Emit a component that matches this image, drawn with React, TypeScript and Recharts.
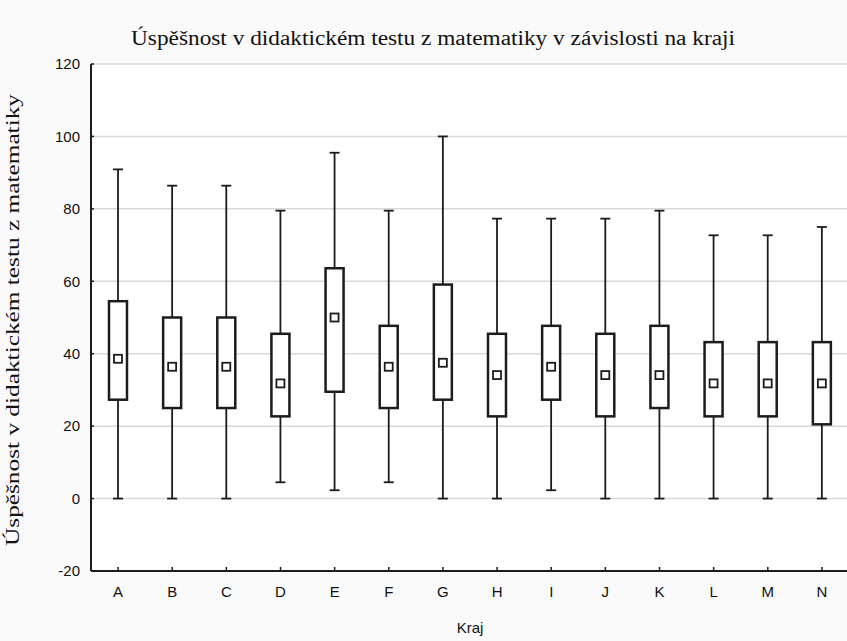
import React from 'react';
import { ComposedChart, Bar, XAxis, YAxis, CartesianGrid } from 'recharts';

const kraje = ['A', 'B', 'C', 'D', 'E', 'F', 'G', 'H', 'I', 'J', 'K', 'L', 'M', 'N'];
const minima = [0, 0, 0, 4.5, 2.3, 4.5, 0, 0, 2.3, 0, 0, 0, 0, 0];
const dolniKvartil = [27.3, 25.0, 25.0, 22.7, 29.5, 25.0, 27.3, 22.7, 27.3, 22.7, 25.0, 22.7, 22.7, 20.5];
const medianSkore = [38.6, 36.4, 36.4, 31.8, 50.0, 36.4, 37.5, 34.1, 36.4, 34.1, 34.1, 31.8, 31.8, 31.8];
const horniKvartil = [54.5, 50.0, 50.0, 45.5, 63.6, 47.7, 59.1, 45.5, 47.7, 45.5, 47.7, 43.2, 43.2, 43.2];
const maxima = [90.9, 86.4, 86.4, 79.5, 95.5, 79.5, 100, 77.3, 77.3, 77.3, 79.5, 72.7, 72.7, 75.0];
const yTicks = [-20, 0, 20, 40, 60, 80, 100, 120];

const nadpis = 'Úspěšnost v didaktickém testu z matematiky v závislosti na kraji';
const popisY = 'Úspěšnost v didaktickém testu z matematiky';
const popisX = 'Kraj';

const data = kraje.map((kraj, i) => ({
  kraj,
  min: minima[i],
  q1: dolniKvartil[i],
  median: medianSkore[i],
  q3: horniKvartil[i],
  max: maxima[i],
}));

const INK = '#1c1c1c';
const SERIF = '"Liberation Serif", "Times New Roman", serif';
const SANS = '"Liberation Sans", Arial, sans-serif';

// bar spans [min, max]; the other statistics are placed on the same pixel scale
const BoxShape = (props: any) => {
  const { x, y, width, height, payload } = props;
  const top = Math.min(y, y + height);
  const span = Math.abs(height);
  const range = payload.max - payload.min;
  const py = (v: number) => top + (span * (payload.max - v)) / range;
  const cx = x + width / 2;
  const box = 9;
  const cap = 5;
  const sq = 4;
  return (
    <g>
      <line x1={cx} x2={cx} y1={py(payload.max)} y2={py(payload.q3)} stroke={INK} strokeWidth={1.8} />
      <line x1={cx} x2={cx} y1={py(payload.q1)} y2={py(payload.min)} stroke={INK} strokeWidth={1.8} />
      <line x1={cx - cap} x2={cx + cap} y1={py(payload.max)} y2={py(payload.max)} stroke={INK} strokeWidth={1.8} />
      <line x1={cx - cap} x2={cx + cap} y1={py(payload.min)} y2={py(payload.min)} stroke={INK} strokeWidth={1.8} />
      <rect
        x={cx - box}
        y={py(payload.q3)}
        width={box * 2}
        height={py(payload.q1) - py(payload.q3)}
        fill="#fff"
        stroke={INK}
        strokeWidth={2.5}
      />
      <rect
        x={cx - sq}
        y={py(payload.median) - sq}
        width={sq * 2}
        height={sq * 2}
        fill="#fff"
        stroke={INK}
        strokeWidth={1.8}
      />
    </g>
  );
};

const App = () => {
  return (
    <div
      style={{
        position: 'fixed',
        left: 0,
        top: 0,
        width: 847,
        height: 641,
        overflow: 'hidden',
        background: '#fafafa',
      }}
    >
      <ComposedChart
        width={862}
        height={641}
        data={data}
        margin={{ top: 64, right: 0, bottom: 0, left: 0 }}
        style={{ position: 'absolute', left: 0, top: 0 }}
      >
        <CartesianGrid vertical={false} stroke="#d9d9d9" strokeWidth={1.5} fill="#ffffff" />
        <XAxis
          dataKey="kraj"
          height={70}
          axisLine={{ stroke: INK, strokeWidth: 2 }}
          tickLine={{ stroke: INK, strokeWidth: 1.5 }}
          tickSize={-4}
          tickMargin={19}
          tick={{ fill: '#111', fontFamily: SANS, fontSize: 15 }}
          label={{ value: popisX, position: 'insideBottom', offset: 8, fill: '#111', fontFamily: SANS, fontSize: 15 }}
        />
        <XAxis
          xAxisId="top"
          dataKey="kraj"
          orientation="top"
          height={0}
          axisLine={{ stroke: INK, strokeWidth: 2 }}
          tickLine={{ stroke: INK, strokeWidth: 1.5 }}
          tickSize={-4}
          tick={false}
        />
        <YAxis
          domain={[-20, 120]}
          ticks={yTicks}
          width={91}
          axisLine={{ stroke: INK, strokeWidth: 2 }}
          tickLine={{ stroke: INK, strokeWidth: 1.5 }}
          tickSize={-3}
          tickMargin={14}
          tick={{ fill: '#111', fontFamily: SANS, fontSize: 15 }}
        />
        <YAxis
          yAxisId="r"
          orientation="right"
          domain={[-20, 120]}
          ticks={yTicks}
          width={13}
          axisLine={{ stroke: INK, strokeWidth: 2 }}
          tickLine={{ stroke: INK, strokeWidth: 1.5 }}
          tickSize={-3}
          tick={false}
        />
        <Bar
          dataKey={(d: any) => [d.min, d.max]}
          barSize={20}
          shape={BoxShape}
          isAnimationActive={false}
        />
      </ComposedChart>
      <svg
        width={847}
        height={641}
        style={{ position: 'absolute', left: 0, top: 0, pointerEvents: 'none' }}
      >
        <text
          x={433}
          y={45}
          textAnchor="middle"
          fontFamily={SERIF}
          fontSize={20}
          fill="#111"
          textLength={604}
          lengthAdjust="spacingAndGlyphs"
        >
          {nadpis}
        </text>
        <text
          transform="translate(19, 320) rotate(-90)"
          textAnchor="middle"
          fontFamily={SERIF}
          fontSize={19}
          fill="#111"
          textLength={452}
          lengthAdjust="spacingAndGlyphs"
        >
          {popisY}
        </text>
      </svg>
    </div>
  );
};

export default App;
